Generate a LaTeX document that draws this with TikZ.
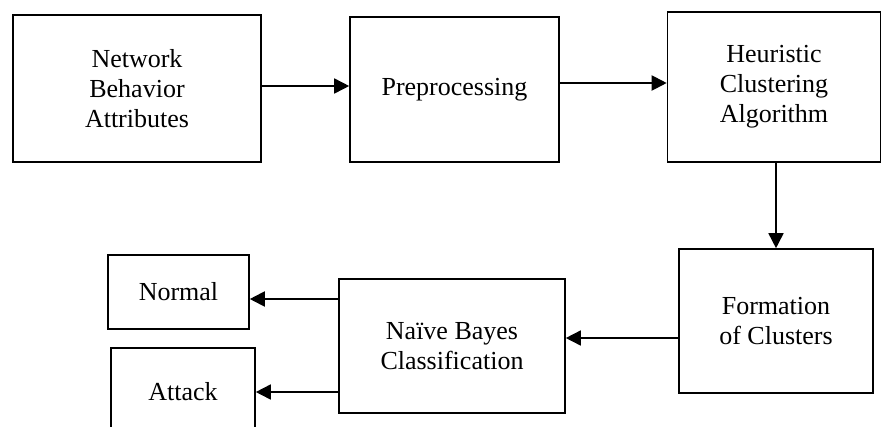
\documentclass[tikz,border=0pt]{standalone}
\usepackage{fontspec}
\setmainfont{Liberation Serif}
\usetikzlibrary{arrows.meta}
\begin{document}
\begin{tikzpicture}[x=1pt,y=-1pt,
  stagebox/.style={draw=black, line width=1.6pt, inner sep=0pt, align=center,
    font=\fontsize{26}{30}\selectfont},
  flow/.style={draw=black, line width=1.6pt, -{Triangle[length=15pt,width=15pt]}}]
  \clip (0,0) rectangle (883,426);

  % pipeline stages
  \node[stagebox, minimum width=248pt, minimum height=147pt] (attr) at (137,88.5)
    {Network\\Behavior\\Attributes};
  \node[stagebox, minimum width=209pt, minimum height=145pt] (prep) at (454.5,89.5)
    {Preprocessing};
  \node[stagebox, minimum width=213pt, minimum height=150pt] (heur) at (774,87)
    {Heuristic\\Clustering\\Algorithm};
  \node[stagebox, minimum width=194pt, minimum height=144pt] (form) at (776,321)
    {Formation\\of Clusters};
  \node[stagebox, minimum width=226pt, minimum height=134pt] (bayes) at (452,346)
    {Naïve Bayes\\Classification};
  \node[stagebox, minimum width=141pt, minimum height=74pt] (normal) at (178.5,292)
    {Normal};
  \node[stagebox, minimum width=144pt, minimum height=88pt] (attack) at (183,392)
    {Attack};

  % connector start points on the box borders
  \coordinate (attrout) at ([yshift=2.5pt]attr.east);
  \coordinate (prepout) at ([yshift=6.5pt]prep.east);
  \coordinate (formout) at ([yshift=-17pt]form.west);
  \coordinate (normalin) at ([yshift=-7pt]normal.east);

  % connectors
  \draw[flow] (attrout) -- (prep.west |- attrout);
  \draw[flow, line width=2pt] (prepout) -- (heur.west |- prepout);
  \draw[flow] (heur.south -| form.north) -- (form.north);
  \draw[flow] (formout) -- (bayes.east |- formout);
  \draw[flow, line width=2pt] (bayes.west |- normalin) -- (normalin);
  \draw[flow] (bayes.west |- attack.east) -- (attack.east);
\end{tikzpicture}
\end{document}
